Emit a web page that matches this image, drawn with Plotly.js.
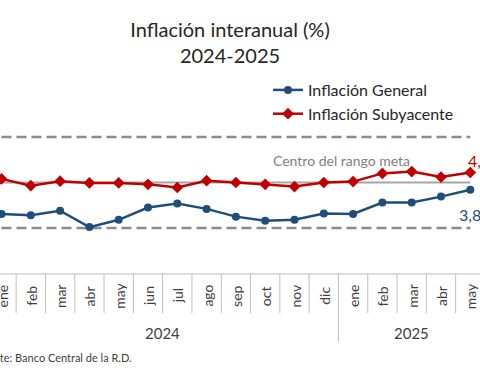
<!DOCTYPE html>
<html><head><meta charset="utf-8">
<script src="https://cdn.plot.ly/plotly-3.0.1.min.js"></script>
<style>html,body{margin:0;padding:0;background:#fff}</style>
</head><body>
<div id="chart" style="width:480px;height:384px"></div>
<script>
// ---- data ----
const months = ["ene","feb","mar","abr","may","jun","jul","ago","sep","oct","nov","dic","ene","feb","mar","abr","may"];
const years = ["2024","2025"];
const yearStart = [0, 12];
const yearEnd = [11, 16];
const general = [3.31,3.28,3.38,3.02,3.18,3.45,3.54,3.42,3.25,3.16,3.18,3.32,3.31,3.56,3.56,3.69,3.84];
const subyacente = [4.08,3.93,4.03,3.99,3.99,3.96,3.89,4.04,4.00,3.96,3.91,4.00,4.02,4.20,4.24,4.12,4.22];
const rangoInferior = 3, rangoCentro = 4, rangoSuperior = 5;
const lastGeneralLabel = "3,84";
const lastSubyacenteLabel = "4,22";

// ---- helpers ----
const H = 384;
const py = px => 1 - px / H;
const idx = months.map((_, i) => i);
const FONT = "Lato, 'Open Sans', sans-serif";
const BLUE = "#1f4e79", RED = "#c00000";

const traces = [
  {x: idx, y: idx.map(() => rangoSuperior), mode: "lines", showlegend: false, hoverinfo: "skip",
   line: {color: "#8c8c8c", width: 2.5, dash: "10px,5px"}},
  {x: idx, y: idx.map(() => rangoInferior), mode: "lines", showlegend: false, hoverinfo: "skip",
   line: {color: "#8c8c8c", width: 2.5, dash: "10px,5px"}},
  {x: idx, y: idx.map(() => rangoCentro), mode: "lines", showlegend: false, hoverinfo: "skip",
   line: {color: "#a6a6a6", width: 2}},
  {x: idx, y: general, name: "Inflación General", mode: "lines+markers",
   line: {color: BLUE, width: 2.5}, marker: {symbol: "circle", size: 8, color: BLUE}},
  {x: idx, y: subyacente, name: "Inflación Subyacente", mode: "lines+markers",
   line: {color: RED, width: 2.5}, marker: {symbol: "diamond", size: 9, color: RED}}
];

const shapes = [];
shapes.push({type: "line", xref: "x", yref: "paper", x0: -0.5, x1: months.length - 0.5,
  y0: py(274), y1: py(274), line: {color: "#bfbfbf", width: 1}});
for (let i = -1; i < months.length; i++) {
  const yearBreak = yearEnd.includes(i) || i === -1;
  shapes.push({type: "line", xref: "x", yref: "paper", x0: i + 0.5, x1: i + 0.5,
    y0: py(274), y1: py(yearBreak ? 342 : 313), line: {color: "#bfbfbf", width: 1}});
}

const annotations = [];
months.forEach((m, i) => annotations.push({x: i, xref: "x", y: py(296), yref: "paper",
  text: m, showarrow: false, textangle: -90, xanchor: "center", yanchor: "middle",
  font: {family: FONT, size: 14, color: "#404040"}}));
years.forEach((yr, k) => annotations.push({x: (yearStart[k] + yearEnd[k]) / 2, xref: "x",
  y: py(333), yref: "paper", text: yr, showarrow: false, xanchor: "center", yanchor: "middle",
  font: {family: FONT, size: 15, color: "#404040"}}));
annotations.push({x: 271 / 480, xref: "paper", y: py(161), yref: "paper", text: "Centro del rango meta",
  showarrow: false, xanchor: "left", yanchor: "middle", font: {family: FONT, size: 14, color: "#7f7f7f"}});
const last = months.length - 1;
annotations.push({x: last - 0.15, xref: "x", y: py(160), yref: "paper", text: lastSubyacenteLabel,
  showarrow: false, xanchor: "left", yanchor: "middle", font: {family: FONT, size: 16, color: RED}});
annotations.push({x: last - 0.45, xref: "x", y: py(214), yref: "paper", text: lastGeneralLabel,
  showarrow: false, xanchor: "left", yanchor: "middle", font: {family: FONT, size: 16, color: BLUE}});
annotations.push({x: 134 / 480, xref: "paper", y: py(357), yref: "paper", text: "Fuente: Banco Central de la R.D.",
  showarrow: false, xanchor: "right", yanchor: "middle", font: {family: FONT, size: 11, color: "#404040"}});

const pxPerCat = 29.3;
const x0 = -1.5 / pxPerCat;
const pxPerUnit = 45.5;
const y0 = 3 - 156 / pxPerUnit;

const layout = {
  width: 480, height: 384,
  margin: {l: 0, r: 0, t: 0, b: 0, pad: 0},
  paper_bgcolor: "#fff", plot_bgcolor: "rgba(0,0,0,0)",
  font: {family: FONT, color: "#404040"},
  title: {text: "Inflación interanual (%)<br>2024-2025", x: 230 / 480, xanchor: "center",
    y: 1 - 37 / H, yref: "container", yanchor: "top", font: {family: FONT, size: 20, color: "#262626"}},
  xaxis: {range: [x0, x0 + 480 / pxPerCat], visible: false, fixedrange: true},
  yaxis: {range: [y0, y0 + H / pxPerUnit], visible: false, fixedrange: true},
  showlegend: true,
  legend: {x: 268 / 480, xanchor: "left", y: py(73), yanchor: "top", bgcolor: "rgba(0,0,0,0)",
    font: {family: FONT, size: 16, color: "#262626"}, tracegroupgap: 0, itemwidth: 30},
  shapes, annotations
};

Plotly.newPlot("chart", traces, layout, {displayModeBar: false, staticPlot: true});
</script>
</body></html>
